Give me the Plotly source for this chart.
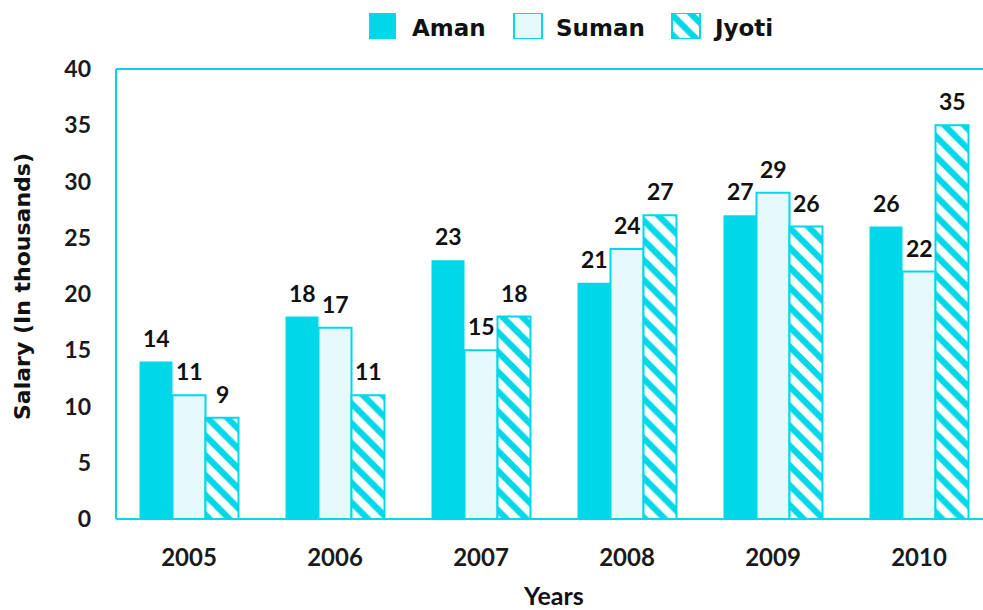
import plotly.graph_objects as go

years = ["2005", "2006", "2007", "2008", "2009", "2010"]
aman = [14, 18, 23, 21, 27, 26]
suman = [11, 17, 15, 24, 29, 22]
jyoti = [9, 11, 18, 27, 26, 35]
series_names = ["Aman", "Suman", "Jyoti"]

CYAN = "#00D8EA"
LIGHT = "#E6FAFD"
W, H = 983, 610
ML, MR, MT, MB = 116, 0, 0, 91
PW, PH = W - ML - MR, H - MT - MB  # 867 x 519
MAIN_TOP = 450 / PH

def px(xp):
    return (xp - ML) / PW

def py(yp):
    return (PH - yp) / PH

hatch = dict(shape="\\", fgcolor=CYAN, bgcolor="white", size=14, solidity=0.45, fgopacity=1)

bargap = 0.322
fig = go.Figure()
fig.add_trace(go.Bar(name="Aman", x=years, y=aman, marker=dict(color=CYAN, line=dict(width=0))))
fig.add_trace(go.Bar(name="Suman", x=years, y=suman, marker=dict(color=LIGHT, line=dict(color=CYAN, width=2))))
fig.add_trace(go.Bar(name="Jyoti", x=years, y=jyoti,
                     marker=dict(color="white", line=dict(color=CYAN, width=2), pattern=hatch)))

# legend swatches drawn as bars on a hidden overlay axis
sw_x = [382.5, 528, 686]
fig.add_trace(go.Bar(x=sw_x[:2], y=[1, 1], width=[27, 28],
                     xaxis="x2", yaxis="y2", showlegend=False, hoverinfo="skip",
                     marker=dict(color=[CYAN, LIGHT], line=dict(color=CYAN, width=[0, 2]))))
fig.add_trace(go.Bar(x=sw_x[2:], y=[1], width=[28],
                     xaxis="x2", yaxis="y2", showlegend=False, hoverinfo="skip",
                     marker=dict(color="white", line=dict(color=CYAN, width=2), pattern=hatch)))

annotations = []
w = (1 - bargap) / 3
for j, vals in enumerate([aman, suman, jyoti]):
    for i, v in enumerate(vals):
        annotations.append(dict(x=i + (j - 1) * w, y=v, xref="x", yref="y", text=str(v),
                                showarrow=False, yanchor="bottom", yshift=8,
                                font=dict(family="Lato", size=23, color="#111111", weight="bold")))

legend_text_x = [410, 554, 711]
for name, lx in zip(series_names, legend_text_x):
    annotations.append(dict(x=px(lx), y=py(28), xref="paper", yref="paper", text=name,
                            showarrow=False, xanchor="left", yanchor="middle",
                            font=dict(family="DejaVu Sans", size=23, color="#111111", weight="bold")))

annotations.append(dict(x=px(553), y=py(595), xref="paper", yref="paper", text="<b>Years</b>",
                        showarrow=False, xanchor="center", yanchor="middle",
                        font=dict(family="Lato", size=25, color="#111111")))
annotations.append(dict(x=px(23), y=py(287), xref="paper", yref="paper",
                        text="Salary (In thousands)", textangle=-90,
                        showarrow=False, xanchor="center", yanchor="middle",
                        font=dict(family="DejaVu Sans", size=22, color="#111111", weight="bold")))

shapes = [
    dict(type="line", xref="paper", yref="paper", x0=0, x1=0, y0=0, y1=MAIN_TOP,
         line=dict(color=CYAN, width=2), layer="above"),
    dict(type="line", xref="paper", yref="paper", x0=0, x1=1.02, y0=MAIN_TOP, y1=MAIN_TOP,
         line=dict(color=CYAN, width=2), layer="above"),
    dict(type="line", xref="paper", yref="paper", x0=0, x1=1.02, y0=0, y1=0,
         line=dict(color=CYAN, width=2), layer="above"),
]

fig.update_layout(
    width=W, height=H,
    margin=dict(l=ML, r=MR, t=MT, b=MB, autoexpand=False),
    paper_bgcolor="white", plot_bgcolor="white",
    barmode="group", bargap=bargap, bargroupgap=0,
    showlegend=False,
    annotations=annotations, shapes=shapes,
    xaxis=dict(type="category", range=[-0.5, -0.5 + PW / 146], showgrid=False, zeroline=False,
               showline=False, ticks="", ticklabelstandoff=22, automargin=False,
               tickfont=dict(family="Lato", size=24, color="#1a1a1a", weight="bold")),
    yaxis=dict(domain=[0, MAIN_TOP], range=[0, 40], tickvals=list(range(0, 41, 5)),
               showgrid=False, zeroline=False, showline=False, ticks="", ticklabelstandoff=24,
               automargin=False,
               tickfont=dict(family="Lato", size=23, color="#1a1a1a", weight="bold")),
    xaxis2=dict(domain=[0, 1], range=[ML, W], visible=False, anchor="y2", automargin=False),
    yaxis2=dict(domain=[py(39), py(13)], range=[0, 1], visible=False, anchor="x2", automargin=False),
)

fig.write_html("out.html", config={"displayModeBar": False},
               post_script=("document.body.style.margin='0';"
                            "document.body.style.overflow='hidden';"
                            "document.documentElement.style.overflow='hidden';"))
